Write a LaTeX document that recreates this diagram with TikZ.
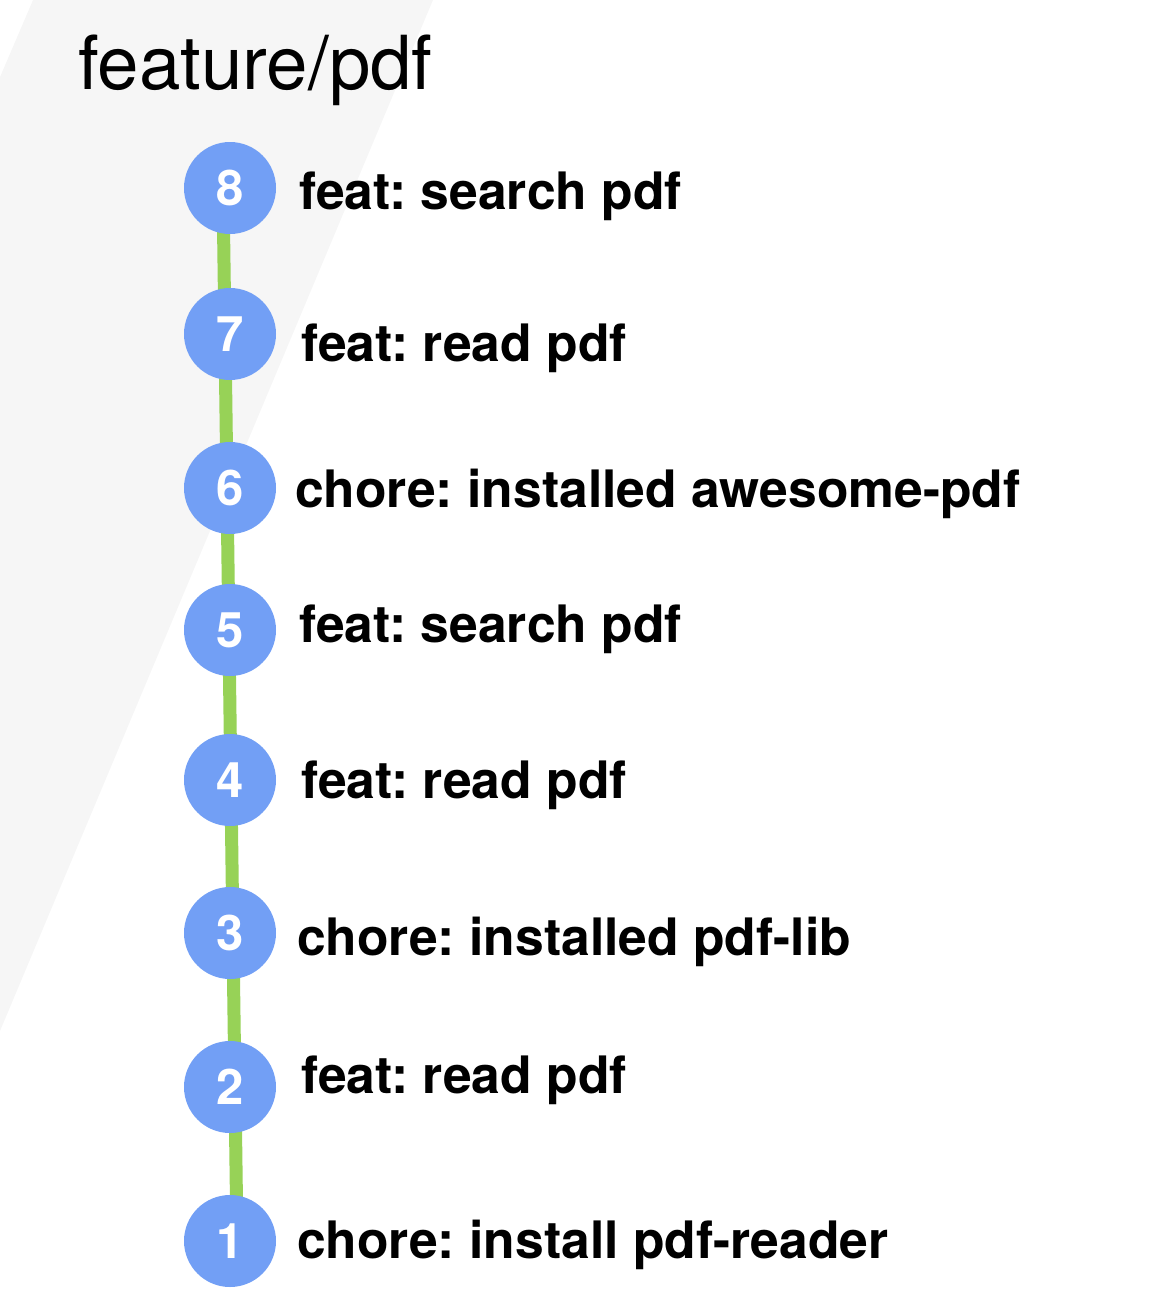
\documentclass[tikz,border=0pt]{standalone}
\usepackage{xcolor}
\usepackage{fontspec}
\setmainfont{TeX Gyre Heros}
\usetikzlibrary{backgrounds}
\definecolor{commitblue}{RGB}{114,159,245}
\definecolor{branchgreen}{RGB}{151,210,87}
\definecolor{bandgray}{RGB}{246,246,246}
\frenchspacing

\begin{document}
\begin{tikzpicture}[x=1pt,y=-1pt,
		commit/.style={circle, fill=commitblue, minimum size=92pt, inner sep=0pt, text=white, font=\fontsize{49}{49}\selectfont\bfseries},
		msg/.style={anchor=base west, inner sep=0pt, font=\fontsize{51.6}{51.6}\selectfont\bfseries},
		branch/.style={line width=13pt, draw=branchgreen}]
		\useasboundingbox (0,0) rectangle (1174,1314);
		\node[anchor=base west, inner sep=0pt, font=\fontsize{74.5}{74.5}\selectfont] (title) at (78,89) {feature/pdf};
		\node[commit] (c8) at (230,188) {8};
		\node[commit] (c7) at (230,334) {7};
		\node[commit] (c6) at (230,488) {6};
		\node[commit] (c5) at (230,630) {5};
		\node[commit] (c4) at (230,780) {4};
		\node[commit] (c3) at (230,933) {3};
		\node[commit] (c2) at (230,1087) {2};
		\node[commit] (c1) at (230,1241) {1};
		\node[msg] (m8) at (299,209) {feat: search pdf};
		\node[msg] (m7) at (301,361) {feat: read pdf};
		\node[msg] (m6) at (295,507) {chore: installed awesome-pdf};
		\node[msg] (m5) at (299,642) {feat: search pdf};
		\node[msg] (m4) at (301,798) {feat: read pdf};
		\node[msg] (m3) at (297,955) {chore: installed pdf-lib};
		\node[msg] (m2) at (301,1093) {feat: read pdf};
		\node[msg] (m1) at (297,1258) {chore: install pdf-reader};
		\begin{scope}[on background layer]
			\fill[bandgray] (33,0) -- (433,0) -- (0,1031) -- (0,77) -- cycle;
			\draw[branch] ([xshift=-7pt]c8.center) -- ([xshift=7pt]c1.center);
		\end{scope}
	\end{tikzpicture}
\end{document}
